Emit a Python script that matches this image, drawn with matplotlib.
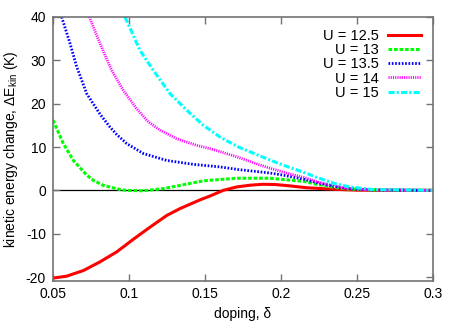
import numpy as np
import matplotlib
matplotlib.use("Agg")
import matplotlib.pyplot as plt

plt.rcParams['font.family'] = ['Liberation Sans', 'DejaVu Sans']
plt.rcParams['axes.unicode_minus'] = False
plt.rcParams['mathtext.default'] = 'regular'

# U = 12.5
x1 = [0.05, 0.059, 0.070, 0.0809, 0.0919, 0.1028, 0.1138, 0.1248, 0.1336, 0.1467,
      0.1533, 0.162, 0.171, 0.18, 0.188, 0.196, 0.204, 0.217, 0.235, 0.25, 0.27, 0.3]
y1 = [-20.25, -19.8, -18.5, -16.5, -14.2, -11.3, -8.5, -5.8, -4.2, -2.2,
      -1.3, 0.0, 0.8, 1.2, 1.4, 1.35, 1.1, 0.6, 0.25, 0.05, 0.0, 0.0]

# U = 13
x2 = [0.05, 0.0568, 0.0634, 0.0722, 0.0766, 0.0831, 0.094, 0.098, 0.1094, 0.1226,
      0.1336, 0.149, 0.171, 0.1928, 0.2015, 0.2147, 0.2235, 0.235, 0.245, 0.26, 0.3]
y2 = [16.2, 10.8, 6.9, 3.5, 2.3, 1.15, 0.2, 0.0, -0.1, 0.4,
      1.15, 2.2, 2.8, 2.8, 2.5, 2.1, 1.4, 0.7, 0.3, 0.1, 0.0]

# U = 13.5
x3 = [0.0557, 0.0612, 0.0656, 0.0722, 0.0809, 0.0875, 0.0919, 0.0985, 0.1094, 0.1248,
      0.1423, 0.16, 0.172, 0.1928, 0.2015, 0.2147, 0.2235, 0.235, 0.245, 0.26, 0.3]
y3 = [40, 33.9, 28.5, 22.3, 17.6, 14.6, 12.9, 10.8, 8.5, 6.9,
      6.0, 5.4, 4.8, 4.0, 3.5, 2.6, 1.8, 0.9, 0.4, 0.1, 0.0]

# U = 14
x4 = [0.0739, 0.0809, 0.0886, 0.0962, 0.1051, 0.1127, 0.1204, 0.1314, 0.1445, 0.1577,
      0.172, 0.185, 0.1928, 0.2015, 0.2147, 0.2235, 0.235, 0.245, 0.26, 0.3]
y4 = [40, 33.9, 27.7, 23.1, 18.8, 15.8, 13.9, 11.9, 10.4, 9.2,
      7.6, 6.0, 5.1, 4.2, 3.0, 2.0, 1.0, 0.45, 0.1, 0.0]

# U = 15
x5 = [0.0974, 0.1072, 0.116, 0.127, 0.138, 0.1489, 0.1599, 0.172, 0.1906, 0.2015,
      0.2147, 0.2235, 0.235, 0.245, 0.26, 0.3]
y5 = [40, 32.3, 27.7, 22.3, 18.5, 15.0, 12.3, 10.0, 7.3, 5.8,
      4.2, 3.0, 1.6, 0.8, 0.2, 0.0]

labels = ['U = 12.5', 'U = 13', 'U = 13.5', 'U = 14', 'U = 15']

fig = plt.figure(figsize=(4.67, 3.27), dpi=100)
ax = fig.add_axes([53 / 467, 1 - 280.5 / 327, 380 / 467, 263.5 / 327])

ax.axhline(0, color='black', lw=0.9, zorder=1)
ax.plot(x1, y1, color='#ff0000', lw=2.2, ls='-', label=labels[0])
ax.plot(x2, y2, color='#00ff00', lw=2.2, ls=(0, (1.2, 0.6)), label=labels[1])
ax.plot(x3, y3, color='#0000ff', lw=2.0, ls=(0, (0.6, 0.6)), label=labels[2])
ax.plot(x4, y4, color='#ff00ff', lw=2.0, ls=(0, (0.4, 0.4)), label=labels[3])
ax.plot(x5, y5, color='#00ffff', lw=2.2, ls=(0, (2.0, 0.7, 0.7, 0.7)), label=labels[4])

ax.set_xlim(0.05, 0.3)
ax.set_ylim(-20.8, 40)
ax.set_xticks([0.05, 0.1, 0.15, 0.2, 0.25, 0.3])
ax.set_xticklabels(['0.05', '0.1', '0.15', '0.2', '0.25', '0.3'])
ax.set_yticks([-20, -10, 0, 10, 20, 30, 40])
ax.tick_params(direction='in', length=5, width=1, color='0.45', labelsize=10,
               top=True, right=True, pad=5)
for s in ax.spines.values():
    s.set_color('0.45')
    s.set_linewidth(1.2)

ax.set_xlabel('doping, δ', fontsize=10, labelpad=4)
ax.set_ylabel('kinetic energy change, ΔE$_{kin}$ (K)', fontsize=10, labelpad=4)

leg = ax.legend(loc='upper right', markerfirst=False, frameon=False, fontsize=10.5,
                handlelength=2.3, handletextpad=0.6, labelspacing=0.02,
                borderaxespad=0.4)
for col in leg._legend_box._children[-1]._children:
    col.align = 'right'

fig.savefig('out.png', dpi=100)
